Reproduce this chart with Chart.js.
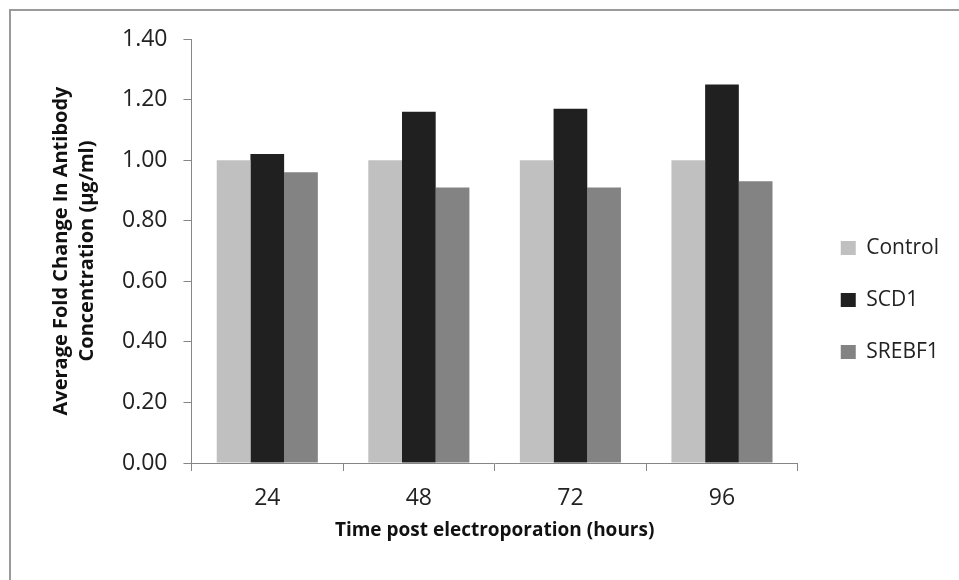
<!DOCTYPE html>
<html>
<head>
<meta charset="utf-8">
<script src="https://cdn.jsdelivr.net/npm/chart.js@4.4.1/dist/chart.umd.min.js"></script>
<style>
  html, body { margin: 0; padding: 0; background: #fff; overflow: hidden; }
  #frame {
    position: absolute; left: 9px; top: 9px;
    width: 1100px; height: 800px;
    border: 2px solid #9a9a9a;
  }
  #wrap { position: absolute; left: 0; top: 0; width: 959px; height: 580px; }
</style>
</head>
<body>
<div id="frame"></div>
<div id="wrap"><canvas id="myChart" width="959" height="580"></canvas></div>
<script>
const categories = ["24", "48", "72", "96"];
const controlValues = [1.00, 1.00, 1.00, 1.00];
const scd1Values = [1.02, 1.16, 1.17, 1.25];
const srebf1Values = [0.96, 0.91, 0.91, 0.93];
const yTicks = [0, 0.2, 0.4, 0.6, 0.8, 1.0, 1.2, 1.4];

const axisColor = "#868686";
const ctx = document.getElementById("myChart");

new Chart(ctx, {
  type: "bar",
  data: {
    labels: categories,
    datasets: [
      { label: "Control", data: controlValues, backgroundColor: "#c0c0c0" },
      { label: "SCD1", data: scd1Values, backgroundColor: "#202020" },
      { label: "SREBF1", data: srebf1Values, backgroundColor: "#838383" },
    ],
  },
  options: {
    responsive: false,
    animation: false,
    categoryPercentage: 0.667,
    barPercentage: 1,
    layout: { padding: { left: 48, top: 39, right: 10, bottom: 19 } },
    plugins: {
      tooltip: { enabled: false },
      legend: {
        position: "right",
        labels: {
          boxWidth: 15,
          boxHeight: 14,
          padding: 31,
          color: "#222",
          font: { family: "Open Sans", size: 21 },
        },
      },
    },
    scales: {
      x: {
        grid: {
          display: true,
          drawOnChartArea: false,
          drawTicks: true,
          tickLength: 8,
          color: axisColor,
          offset: true,
        },
        border: { color: axisColor },
        ticks: {
          color: "#222",
          padding: 15,
          font: { family: "Open Sans", size: 23, lineHeight: 1.05 },
        },
        title: {
          display: true,
          text: "Time post electroporation (hours)",
          color: "#111",
          font: { family: "Open Sans", size: 19, weight: "bold" },
          padding: { top: -6, bottom: 19 },
        },
      },
      y: {
        min: 0,
        max: 1.4,
        afterBuildTicks: (scale) => {
          scale.ticks = yTicks.map((v) => ({ value: v }));
        },
        grid: {
          drawOnChartArea: false,
          drawTicks: true,
          tickLength: 8,
          color: axisColor,
        },
        border: { color: axisColor },
        ticks: {
          color: "#222",
          padding: 16,
          font: { family: "Open Sans", size: 23 },
          callback: (v) => Number(v).toFixed(2),
        },
        title: {
          display: true,
          text: ["Average Fold Change In Antibody", "Concentration (µg/ml)"],
          color: "#111",
          font: { family: "Open Sans", size: 20, weight: "bold", lineHeight: 1.3 },
          padding: { top: 0, bottom: 6 },
        },
      },
      // empty right axis, only keeps a gap between plot and legend
      gap: {
        position: "right",
        grid: { display: false },
        border: { display: false },
        ticks: { display: false },
        afterFit: (scale) => {
          scale.width = 12;
        },
      },
    },
  },
});
</script>
</body>
</html>
